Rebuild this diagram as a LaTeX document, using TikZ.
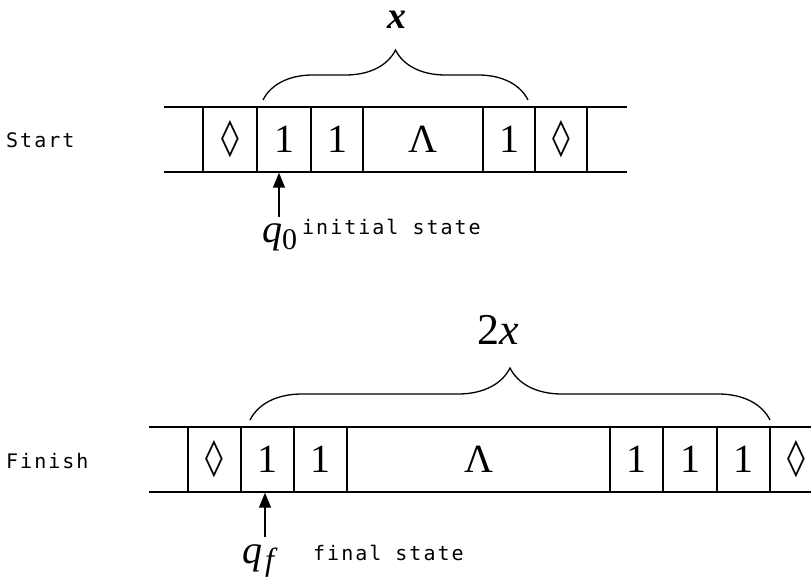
\documentclass[tikz,border=0pt]{standalone}
\usepackage{fontspec}
\setmainfont{Liberation Serif}
\newfontfamily\tapemono[LetterSpace=10]{DejaVu Sans Mono}
\newfontfamily\tapesym{DejaVu Sans}
\usetikzlibrary{arrows.meta, decorations.pathreplacing, positioning, calc}
\newcommand{\tapedia}{{\tapesym\fontsize{36}{36}\selectfont ◊}}

\begin{document}
\begin{tikzpicture}[x=1pt, y=-1pt,
    cell/.style={draw, line width=1.4pt, inner sep=0pt, minimum height=65pt, font=\fontsize{40}{40}\selectfont},
    tapeline/.style={line width=1.4pt},
    tapebrace/.style={decorate, decoration={brace, amplitude=#1}, line width=1.3pt},
    pointer/.style={-{Triangle[length=15pt, width=12pt]}, line width=1.4pt},
    sidelabel/.style={font=\tapemono\fontsize{20}{20}\selectfont, anchor=base west, inner sep=0pt},
    qlabel/.style={font=\fontsize{40}{40}\selectfont, anchor=base west, inner sep=0pt}]
    \useasboundingbox (0,0) rectangle (811,580);

    % Nastro iniziale
    \draw[tapeline] (164,107) -- (627,107);
    \draw[tapeline] (164,172) -- (627,172);
    \foreach \n/\c/\w/\s in {a/230/54/\tapedia, b/284/54/1, c/337/52/1, d/423/120/Λ, e/509/52/1, f/561/52/\tapedia}{
        \node[cell, minimum width=\w pt] (top\n) at (\c,139.5) {\s};
    }
    \node[sidelabel] (start) at (6,148) {Start};
    \draw[tapebrace=50pt] (263,100) -- (528,100);
    \node[font=\fontsize{38}{38}\selectfont\bfseries\itshape, anchor=base] (xlab) at (397,29) {x};

    % Testina in q0
    \coordinate (tail0) at (279,217);
    \draw[pointer] (tail0) -- (tail0 |- topb.south);
    \node[qlabel] (q0) at (262,243) {\textit{q}\raisebox{-6pt}{\fontsize{30}{30}\selectfont 0}};
    \node[sidelabel] (init) at (302,234) {initial state};

    % Nastro finale
    \draw[tapeline] (149,427) -- (811,427);
    \draw[tapeline] (149,492) -- (811,492);
    \foreach \n/\c/\w/\s in {a/214.5/53/\tapedia, b/267.5/53/1, c/320.5/53/1, d/478.5/263/Λ, e/636.5/53/1, f/690/54/1, g/743.5/53/1, h/796.5/53/\tapedia}{
        \node[cell, minimum width=\w pt] (bot\n) at (\c,459.5) {\s};
    }
    \node[sidelabel] (finish) at (6,468) {Finish};
    \draw[tapebrace=52pt] (250,420) -- (770,420);
    \node[font=\fontsize{44}{44}\selectfont, anchor=base] (twoxlab) at (498,344) {2\textit{x}};

    % Testina in qf
    \coordinate (tailf) at (265,537);
    \draw[pointer] (tailf) -- (tailf |- botb.south);
    \node[qlabel] (qf) at (242,563) {\textit{q}\hspace{3pt}\raisebox{-7pt}{\fontsize{32}{32}\selectfont\textit{f}}};
    \node[sidelabel] (final) at (313,560) {final state};
\end{tikzpicture}
\end{document}
